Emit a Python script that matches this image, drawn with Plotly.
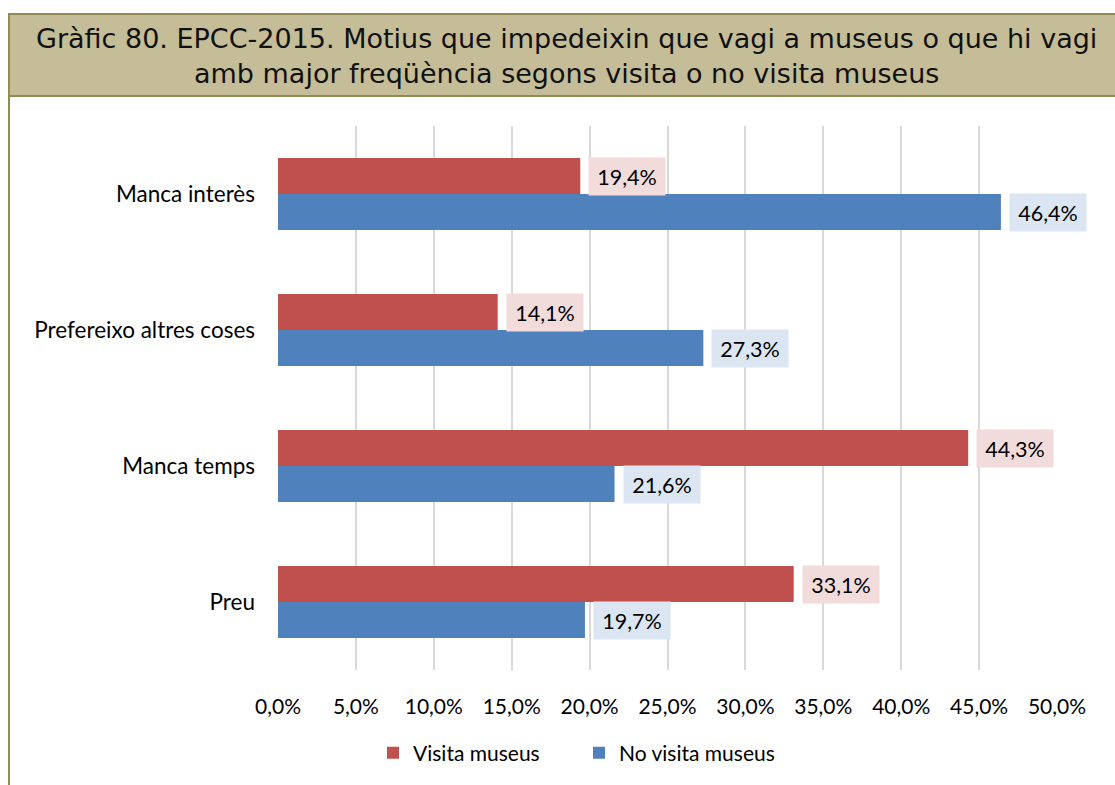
import plotly.graph_objects as go

# Motius (bottom to top on the axis)
categories = ["Preu", "Manca temps", "Prefereixo altres coses", "Manca interès"]
visita = [33.1, 44.3, 14.1, 19.4]
no_visita = [19.7, 21.6, 27.3, 46.4]
tick_vals = [0, 5, 10, 15, 20, 25, 30, 35, 40, 45, 50]
tick_text = ["0,0%", "5,0%", "10,0%", "15,0%", "20,0%", "25,0%",
             "30,0%", "35,0%", "40,0%", "45,0%", "50,0%"]
title_lines = ["Gràfic 80. EPCC-2015. Motius que impedeixin que vagi a museus o que hi vagi",
               "amb major freqüència segons visita o no visita museus"]

W, H = 1115, 785
ML, MR, MT, MB = 278, 58, 126, 115

RED = "#C0504D"
BLUE = "#4F81BD"
LABEL_FONT = "Lato, Calibri, Carlito, sans-serif"
FS = 21

fig = go.Figure()
fig.add_trace(go.Bar(y=categories, x=no_visita, orientation="h", name="No visita museus",
                     marker=dict(color=BLUE, line=dict(width=0)), legendrank=2))
fig.add_trace(go.Bar(y=categories, x=visita, orientation="h", name="Visita museus",
                     marker=dict(color=RED, line=dict(width=0)), legendrank=1))


def pct(v):
    return f"{v:.1f}".replace(".", ",") + "%"


# value boxes next to each bar
ann = []
for vals, sign, bg in ((visita, 1, "#F2DCDB"), (no_visita, -1, "#DCE6F2")):
    for cat, v in zip(categories, vals):
        ann.append(dict(x=v, y=cat, xref="x", yref="y", text=pct(v), showarrow=False,
                        xanchor="left", yanchor="middle", xshift=8, yshift=18 * sign,
                        bgcolor=bg, width=68, height=29, borderpad=4,
                        font=dict(family=LABEL_FONT, size=21.5, color="#000000")))

# title band
pw = W - ML - MR
ph = H - MT - MB


def px_x(p):
    return (p - ML) / pw


def px_y(p):
    return 1 - (p - MT) / ph


ann.append(dict(x=px_x(566), y=px_y(56), xref="paper", yref="paper",
                text="<br>".join(title_lines), showarrow=False,
                xanchor="center", yanchor="middle", align="center",
                font=dict(family="DejaVu Sans, Verdana, sans-serif", size=27, color="#111111")))

shapes = [
    dict(type="rect", xref="paper", yref="paper",
         x0=px_x(9), x1=px_x(W + 20), y0=px_y(96), y1=px_y(14),
         fillcolor="#C4BD97", line=dict(color="#948A54", width=2), layer="below"),
    dict(type="line", xref="paper", yref="paper",
         x0=px_x(9), x1=px_x(9), y0=px_y(96), y1=px_y(H + 10),
         line=dict(color="#948A54", width=2)),
]

fig.update_layout(
    width=W, height=H,
    margin=dict(l=ML, r=MR, t=MT, b=MB, pad=0),
    paper_bgcolor="#FFFFFF", plot_bgcolor="#FFFFFF",
    barmode="group", bargap=0.47, bargroupgap=0,
    showlegend=True,
    legend=dict(orientation="h", x=px_x(579), xanchor="center", y=px_y(753), yanchor="middle",
                font=dict(family=LABEL_FONT, size=FS, color="#000000"),
                itemwidth=30, traceorder="normal", entrywidth=161, entrywidthmode="pixels"),
    annotations=ann, shapes=shapes,
    font=dict(family=LABEL_FONT, size=FS, color="#000000"),
)
fig.update_xaxes(range=[0, 50], tickvals=tick_vals, ticktext=tick_text,
                 showgrid=True, gridcolor="#D9D9D9", gridwidth=2,
                 zeroline=False, showline=False, ticks="", ticklabelstandoff=22,
                 tickfont=dict(family=LABEL_FONT, size=FS, color="#000000"), fixedrange=True)
fig.update_yaxes(type="category", categoryorder="array", categoryarray=categories,
                 showgrid=False, zeroline=False, showline=False, ticks="",
                 ticklabelstandoff=22,
                 tickfont=dict(family=LABEL_FONT, size=22.5, color="#000000"), fixedrange=True)

fig.write_html("out.html", include_plotlyjs=True)
